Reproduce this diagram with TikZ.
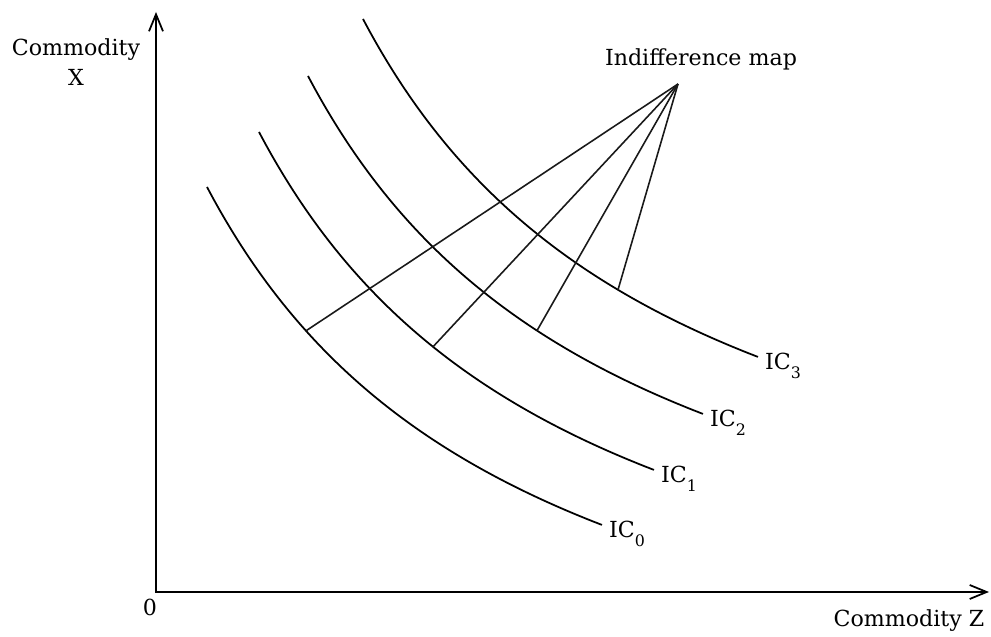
\documentclass[tikz,border=0pt]{standalone}
\usepackage{fontspec}
\setmainfont{DejaVu Serif}
\usepackage{tikz}
\usetikzlibrary{arrows.meta,positioning,calc}

\newcommand\icsub[1]{IC\raisebox{-0.38em}{\fontsize{9}{9}\selectfont#1}}

\begin{document}
\begin{tikzpicture}[x=2cm,y=2cm,font=\fontsize{12.6}{17.2}\selectfont,
 barb/.tip={Straight Barb[length=3.4mm,width=2.8mm,line width=1pt]},
 axis/.style={line width=1.1pt,barb-barb,line join=miter},
 curve/.style={line width=1pt},
 ray/.style={line width=0.9pt,black!90},
 lbl/.style={inner sep=1pt,anchor=west,xshift=1mm,yshift=-1.8mm}]
\useasboundingbox (0,0) rectangle (9.91,6.37);
% axes
\coordinate (o) at (1.56,0.45);
\coordinate (ytip) at (1.56,6.25);
\coordinate (xtip) at (9.89,0.45);
\draw[axis](ytip)|-(xtip);
\node (zero) at (1.50,0.30) {0};
\node[align=center] (ylab) at (0.76,5.75) {Commodity\\X};
\node (xlab) at (9.09,0.16) {Commodity Z};
% indifference curves, one shape shifted
\foreach \sx/\sy/\n/\u in {2.07/4.50/0/0.99,2.59/5.05/1/1.74,3.08/5.61/2/2.29,3.63/6.18/3/2.55}{
 \draw[curve] plot[domain=0:3.95,samples=60,smooth] ({\sx+\x},{\sy-6.16+20.02/(\x+3.25)});
 \coordinate (f\n) at ({\sx+\u},{\sy-6.16+20.02/(\u+3.25)});
 \coordinate (e\n) at ({\sx+3.95},{\sy-3.38});
 \node[lbl] (ic\n) at (e\n) {\icsub{\n}};
}
% label and rays
\node (map) at (7.01,5.78) {Indifference map};
\coordinate (apex) at (6.78,5.53);
\foreach \n in {0,...,3} \draw[ray](apex)--(f\n);
\end{tikzpicture}
\end{document}
